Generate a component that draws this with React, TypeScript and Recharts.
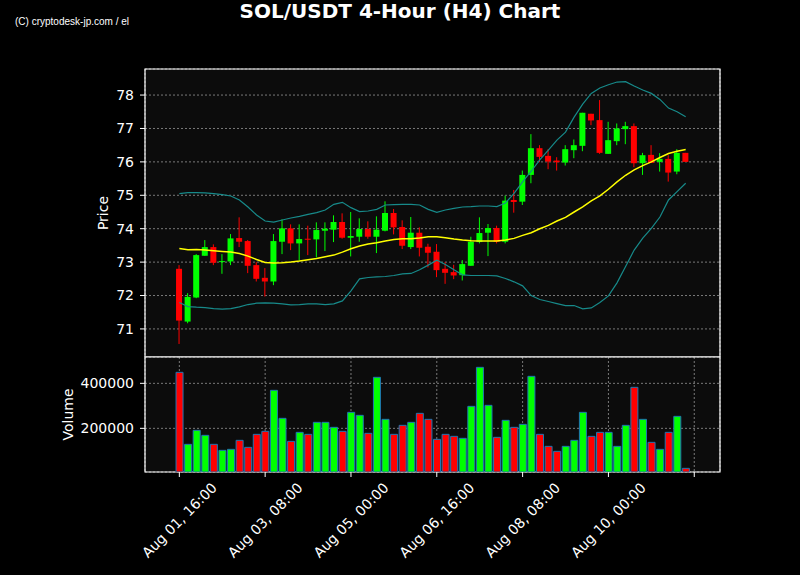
import React from "react";
import {
  ComposedChart,
  Bar,
  Line,
  XAxis,
  YAxis,
  CartesianGrid,
  Cell,
  ReferenceArea,
} from "recharts";

// 4h candles, Aug 01 16:00 -> Aug 11 12:00
const opens = [
  72.8, 71.22, 71.94, 73.19, 73.45, 73.0, 73.02, 73.72, 73.63, 72.91,
  72.53, 72.42, 73.61, 74.01, 73.56, 73.7, 73.68, 73.94, 73.97, 74.2,
  73.73, 73.76, 73.99, 73.76, 73.94, 74.47, 74.05, 73.45, 73.88, 73.46,
  73.31, 72.8, 72.7, 72.61, 72.89, 73.6, 73.88, 74.02, 73.61, 74.86,
  74.81, 75.61, 76.41, 76.18, 76.04, 75.98, 76.35, 76.48, 77.44, 77.25,
  76.24, 76.62, 76.98, 77.07, 75.96, 76.21, 76.0, 76.09, 75.71, 76.27,
];
const highs = [
  72.91, 72.07, 73.24, 73.66, 73.53, 73.24, 73.84, 74.34, 73.66, 73.0,
  72.82, 73.84, 74.28, 74.13, 74.13, 74.09, 74.19, 74.19, 74.4, 74.46,
  74.5, 74.31, 74.22, 74.37, 74.82, 74.59, 74.25, 74.35, 74.04, 73.55,
  73.54, 73.0, 72.92, 73.06, 73.76, 74.34, 74.14, 74.09, 74.99, 75.16,
  75.74, 76.83, 76.5, 76.38, 76.14, 76.5, 76.67, 77.47, 77.44, 77.85,
  77.2, 77.15, 77.2, 77.15, 76.27, 76.5, 76.26, 76.2, 76.38, 76.27,
];
const lows = [
  70.55, 71.17, 71.92, 73.19, 72.91, 72.65, 72.91, 73.45, 72.67, 72.42,
  71.97, 72.31, 73.24, 73.36, 73.04, 73.21, 73.14, 73.33, 73.6, 73.7,
  73.17, 73.61, 73.7, 73.27, 73.92, 73.83, 73.39, 73.39, 73.17, 72.84,
  72.55, 72.35, 72.49, 72.45, 72.89, 73.56, 73.18, 73.56, 73.56, 74.48,
  74.71, 75.36, 75.99, 75.78, 75.74, 75.89, 76.11, 76.32, 77.1, 76.24,
  76.24, 76.5, 76.53, 75.84, 75.61, 75.97, 75.71, 75.41, 75.63, 76.0,
];
const closes = [
  71.25, 71.96, 73.21, 73.45, 72.98, 73.03, 73.71, 73.61, 72.89, 72.5,
  72.42, 73.63, 74.01, 73.56, 73.69, 73.67, 73.96, 74.0, 74.2, 73.73,
  73.78, 73.99, 73.76, 73.97, 74.47, 74.04, 73.49, 73.88, 73.43, 73.28,
  72.76, 72.68, 72.6, 72.94, 73.61, 73.87, 74.02, 73.61, 74.84, 74.8,
  75.61, 76.41, 76.15, 76.01, 75.99, 76.38, 76.5, 77.47, 77.24, 76.27,
  76.65, 77.0, 77.07, 75.96, 76.2, 75.97, 76.09, 75.68, 76.27, 76.0,
];
const volumes = [
  448900, 128900, 191100, 168900, 128900, 102200, 106700, 146700, 115600, 173300,
  186700, 368900, 244400, 142200, 182200, 173300, 226700, 226700, 204400, 186700,
  271100, 257800, 177800, 426700, 240000, 173300, 213300, 226700, 266700, 240000,
  151100, 173300, 164400, 155600, 297800, 471100, 302200, 160000, 235600, 204400,
  217800, 431100, 173300, 120000, 97800, 120000, 146700, 271100, 164400, 182200,
  182200, 120000, 213300, 382200, 240000, 137800, 106700, 182200, 253300, 22200,
];
const sma20 = [
  73.41, 73.37, 73.38, 73.36, 73.34, 73.32, 73.3, 73.26, 73.18, 73.08,
  72.99, 72.97, 72.98, 73.0, 73.03, 73.07, 73.11, 73.16, 73.21, 73.3,
  73.4, 73.48, 73.54, 73.58, 73.63, 73.68, 73.7, 73.7, 73.72, 73.76,
  73.76, 73.73, 73.69, 73.66, 73.64, 73.63, 73.63, 73.63, 73.66, 73.71,
  73.8, 73.88, 74.0, 74.1, 74.23, 74.34, 74.5, 74.65, 74.83, 74.98,
  75.18, 75.4, 75.6, 75.76, 75.89, 76.0, 76.13, 76.25, 76.32, 76.37,
];
const upperBand = [
  75.05, 75.08, 75.08, 75.07, 75.05, 75.02, 74.98, 74.86, 74.65, 74.41,
  74.23, 74.2, 74.26, 74.32, 74.37, 74.43, 74.48, 74.56, 74.73, 74.79,
  74.63, 74.51, 74.53, 74.58, 74.71, 74.72, 74.73, 74.73, 74.71, 74.58,
  74.49, 74.56, 74.61, 74.65, 74.66, 74.68, 74.68, 74.66, 74.77, 75.06,
  75.4, 75.72, 76.06, 76.35, 76.65, 76.89, 77.34, 77.73, 78.05, 78.21,
  78.31, 78.39, 78.4, 78.27, 78.15, 78.05, 77.87, 77.61, 77.5, 77.35,
];
const lowerBand = [
  71.79, 71.67, 71.65, 71.64, 71.61, 71.59, 71.61, 71.66, 71.73, 71.77,
  71.78, 71.77, 71.75, 71.72, 71.73, 71.75, 71.75, 71.73, 71.75, 71.84,
  72.14, 72.5, 72.54, 72.56, 72.57, 72.6, 72.65, 72.66, 72.77, 72.91,
  73.06, 72.93, 72.77, 72.62, 72.6, 72.6, 72.6, 72.59, 72.51, 72.41,
  72.29, 72.0, 71.88, 71.82, 71.76, 71.7, 71.7, 71.6, 71.63, 71.79,
  71.99, 72.38, 72.87, 73.36, 73.72, 74.01, 74.35, 74.86, 75.11, 75.36,
];
const tickIndex = [0, 10, 20, 30, 40, 50, 60];
const tickLabels = [
  "Aug 01, 16:00",
  "Aug 03, 08:00",
  "Aug 05, 00:00",
  "Aug 06, 16:00",
  "Aug 08, 08:00",
  "Aug 10, 00:00",
  "",
];
const priceTicks = [71, 72, 73, 74, 75, 76, 77, 78];
const volumeTicks = [200000, 400000];

const rows = opens.map((o, i) => ({
  i,
  open: o,
  high: highs[i],
  low: lows[i],
  close: closes[i],
  vol: volumes[i],
  sma: sma20[i],
  upper: upperBand[i],
  lower: lowerBand[i],
}));

const UP = "#00ff00";
const DOWN = "#ff0000";
const GRID = "#7a7a7a";
const PANEL = "#0c0c0c";
const X_DOMAIN = [-4, 63];

const Candle = (props: any) => {
  const { x, y, width, height, payload } = props;
  const { open, close, high, low } = payload;
  const color = close >= open ? UP : DOWN;
  const range = high - low;
  const py = (v: number) => (range > 0 ? y + ((high - v) / range) * height : y);
  const cx = x + width / 2;
  const top = py(Math.max(open, close));
  const bot = py(Math.min(open, close));
  return (
    <g>
      <line x1={cx} x2={cx} y1={y} y2={y + height} stroke={color} strokeWidth={1} />
      <rect x={x} y={top} width={width} height={Math.max(bot - top, 1)} fill={color} />
    </g>
  );
};

const AxisTitle = (props: any) => {
  const { viewBox, text, gap } = props;
  const cx = viewBox.x + viewBox.width - gap;
  const cy = viewBox.y + viewBox.height / 2;
  return (
    <text
      x={cx}
      y={cy}
      transform={`rotate(-90, ${cx}, ${cy})`}
      textAnchor="middle"
      dominantBaseline="central"
      fill="#fff"
      fontSize={14}
    >
      {text}
    </text>
  );
};

const DateTick = (props: any) => {
  const { x, y, payload } = props;
  const label = tickLabels[tickIndex.indexOf(payload.value)] || "";
  const cy = y + 41;
  return (
    <text
      x={x}
      y={cy}
      transform={`rotate(-45, ${x}, ${cy})`}
      textAnchor="middle"
      dominantBaseline="central"
      fill="#fff"
      fontSize={14}
    >
      {label}
    </text>
  );
};

export default function App() {
  return (
    <div
      style={{
        position: "absolute",
        left: 0,
        top: 0,
        width: 800,
        height: 575,
        background: "#000",
        fontFamily: "DejaVu Sans",
      }}
    >
      <svg width={800} height={575} style={{ position: "absolute", left: 0, top: 0 }}>
        <text x={400} y={18} textAnchor="middle" fill="#fff" fontSize={20} fontWeight="bold">
          SOL/USDT 4-Hour (H4) Chart
        </text>
        <text
          x={15}
          y={25}
          fill="#fff"
          fontSize={10}
          fontFamily="Liberation Sans"
          textLength={114}
        >
          (C) cryptodesk-jp.com / el
        </text>
      </svg>

      <div style={{ position: "absolute", left: 0, top: 0 }}>
        <ComposedChart
          width={800}
          height={357}
          data={rows}
          margin={{ top: 69, right: 80, bottom: 0, left: 85 }}
        >
          <CartesianGrid fill={PANEL} fillOpacity={1} stroke={GRID} strokeDasharray="2 2" />
          <XAxis
            type="number"
            dataKey="i"
            domain={X_DOMAIN}
            ticks={tickIndex}
            tick={false}
            tickLine={false}
            axisLine={false}
            height={0}
            allowDataOverflow
          />
          <YAxis
            domain={[70.16, 78.78]}
            ticks={priceTicks}
            allowDataOverflow
            width={60}
            axisLine={false}
            tickLine={{ stroke: "#fff" }}
            tickSize={5}
            tickMargin={6}
            tick={{ fill: "#fff", fontSize: 14 }}
            label={<AxisTitle text="Price" gap={42} />}
          />
          <ReferenceArea
            x1={X_DOMAIN[0]}
            x2={X_DOMAIN[1]}
            y1={70.16}
            y2={78.78}
            fill="none"
            stroke="#fff"
            strokeWidth={1.2}
            ifOverflow="visible"
          />
          <Bar
            dataKey={(d: any) => [d.low, d.high]}
            shape={<Candle />}
            barSize={6}
            isAnimationActive={false}
          />
          <Line
            dataKey="upper"
            stroke="#178a8a"
            strokeWidth={1.2}
            dot={false}
            type="linear"
            isAnimationActive={false}
          />
          <Line
            dataKey="lower"
            stroke="#178a8a"
            strokeWidth={1.2}
            dot={false}
            type="linear"
            isAnimationActive={false}
          />
          <Line
            dataKey="sma"
            stroke="#ffff00"
            strokeWidth={1.5}
            dot={false}
            type="linear"
            isAnimationActive={false}
          />
        </ComposedChart>
      </div>

      <div style={{ position: "absolute", left: 0, top: 0 }}>
        <ComposedChart
          width={800}
          height={575}
          data={rows}
          margin={{ top: 357, right: 80, bottom: 3, left: 85 }}
        >
          <CartesianGrid fill={PANEL} fillOpacity={1} stroke={GRID} strokeDasharray="2 2" />
          <XAxis
            type="number"
            dataKey="i"
            domain={X_DOMAIN}
            ticks={tickIndex}
            allowDataOverflow
            axisLine={false}
            tickLine={{ stroke: "#fff" }}
            tickSize={5}
            tickMargin={2}
            height={100}
            tick={<DateTick />}
            interval={0}
          />
          <YAxis
            domain={[6000, 517000]}
            ticks={volumeTicks}
            allowDataOverflow
            width={60}
            axisLine={false}
            tickLine={{ stroke: "#fff" }}
            tickSize={5}
            tickMargin={6}
            tick={{ fill: "#fff", fontSize: 14 }}
            label={<AxisTitle text="Volume" gap={77} />}
          />
          <ReferenceArea
            x1={X_DOMAIN[0]}
            x2={X_DOMAIN[1]}
            y1={6000}
            y2={517000}
            fill="none"
            stroke="#fff"
            strokeWidth={1.2}
            ifOverflow="visible"
          />
          <Bar dataKey="vol" barSize={7} stroke="#1f77b4" strokeWidth={1} isAnimationActive={false}>
            {rows.map((r) => (
              <Cell key={r.i} fill={r.close >= r.open ? UP : DOWN} />
            ))}
          </Bar>
        </ComposedChart>
      </div>
    </div>
  );
}
